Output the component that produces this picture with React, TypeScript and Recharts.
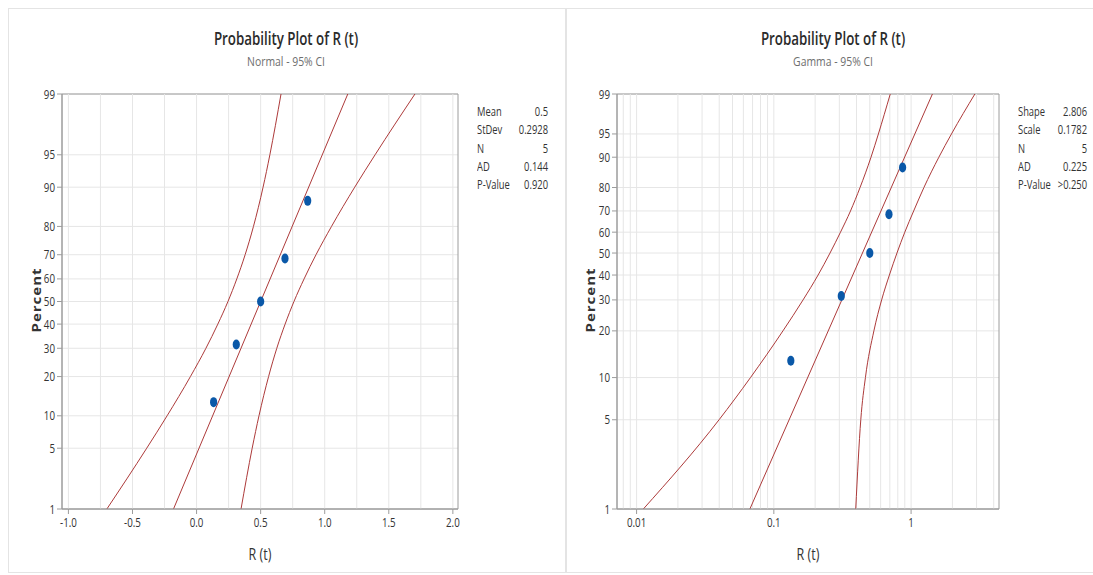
import React from 'react';
import {
  ComposedChart,
  Line,
  Scatter,
  XAxis,
  YAxis,
  CartesianGrid,
  ReferenceLine,
  ReferenceArea,
} from 'recharts';

// percent levels on the probability axis
const pctLevels = [1, 5, 10, 20, 30, 40, 50, 60, 70, 80, 90, 95, 99];

// observed R (t) values and their plotting positions (percent)
const obsR = [0.133, 0.31, 0.5, 0.69, 0.867];
const obsPct = [12.96, 31.48, 50, 68.52, 87.04];

// normal fit and 95% CI, R (t) read at each percent level in pctLevels
const normFitPct = [1, 99];
const normFitR = [-0.18, 1.18];
const normLoR = [-0.7, -0.389, -0.23, -0.048, 0.073, 0.166, 0.245, 0.314, 0.379, 0.444, 0.519, 0.572, 0.659];
const normHiR = [0.347, 0.434, 0.487, 0.562, 0.626, 0.691, 0.76, 0.839, 0.932, 1.053, 1.234, 1.393, 1.704];

// gamma fit and 95% CI
const gammaFitPct = [1, 99];
const gammaFitR = [0.0669, 1.43];
const gammaLoR = [0.0112, 0.0399, 0.0676, 0.1165, 0.1633, 0.2101, 0.2566, 0.306, 0.3619, 0.4247, 0.5104, 0.5778, 0.705];
const gammaHiR = [0.395, 0.43, 0.4648, 0.5358, 0.6102, 0.695, 0.789, 0.9, 1.0445, 1.24, 1.593, 1.969, 2.915];

const normXTicks = [-1, -0.5, 0, 0.5, 1, 1.5, 2];
const normXGrid = [-1, -0.75, -0.5, -0.25, 0, 0.25, 0.5, 0.75, 1, 1.25, 1.5, 1.75, 2];
const gammaXTicks = [0.01, 0.1, 1];
const gammaXGrid = [
  0.008, 0.009, 0.01, 0.02, 0.03, 0.04, 0.05, 0.06, 0.07, 0.08, 0.09,
  0.1, 0.2, 0.3, 0.4, 0.5, 0.6, 0.7, 0.8, 0.9, 1, 2, 3, 4,
];

const normStats = [['Mean', '0.5'], ['StDev', '0.2928'], ['N', '5'], ['AD', '0.144'], ['P-Value', '0.920']];
const gammaStats = [['Shape', '2.806'], ['Scale', '0.1782'], ['N', '5'], ['AD', '0.225'], ['P-Value', '>0.250']];
const GAMMA_SHAPE = 2.806;

const RED = '#ad3a3a';
const BLUE = '#0a58a8';
const AXIS = '#9c9c9c';
const GRID = '#e6e6e6';
const FONT = '"Open Sans", "Noto Sans", sans-serif';
const SQUEEZE = 0.78;

// ---- probability scale helpers ----
function erf(x: number) {
  const s = x < 0 ? -1 : 1;
  const a = Math.abs(x);
  const t = 1 / (1 + 0.3275911 * a);
  const y = 1 - (((((1.061405429 * t - 1.453152027) * t) + 1.421413741) * t - 0.284496736) * t + 0.254829592) * t * Math.exp(-a * a);
  return s * y;
}
const phi = (z: number) => 0.5 * (1 + erf(z / Math.SQRT2));
function normInv(p: number) {
  let lo = -10, hi = 10;
  for (let i = 0; i < 80; i++) {
    const m = (lo + hi) / 2;
    if (phi(m) < p) lo = m; else hi = m;
  }
  return (lo + hi) / 2;
}
function lnGamma(z: number): number {
  const g = 7;
  const c = [0.99999999999980993, 676.5203681218851, -1259.1392167224028, 771.32342877765313,
    -176.61502916214059, 12.507343278686905, -0.13857109526572012, 9.9843695780195716e-6, 1.5056327351493116e-7];
  if (z < 0.5) return Math.log(Math.PI / Math.sin(Math.PI * z)) - lnGamma(1 - z);
  z -= 1;
  let x = c[0];
  for (let i = 1; i < g + 2; i++) x += c[i] / (z + i);
  const t = z + g + 0.5;
  return 0.5 * Math.log(2 * Math.PI) + (z + 0.5) * Math.log(t) - t + Math.log(x);
}
function gammaP(a: number, x: number) {
  if (x <= 0) return 0;
  const gln = lnGamma(a);
  if (x < a + 1) {
    let ap = a, sum = 1 / a, del = sum;
    for (let n = 0; n < 200; n++) {
      ap += 1; del *= x / ap; sum += del;
      if (Math.abs(del) < Math.abs(sum) * 1e-12) break;
    }
    return sum * Math.exp(-x + a * Math.log(x) - gln);
  }
  let b = x + 1 - a, c = 1e300, d = 1 / b, h = d;
  for (let i = 1; i < 200; i++) {
    const an = -i * (i - a);
    b += 2;
    d = an * d + b; if (Math.abs(d) < 1e-300) d = 1e-300;
    c = b + an / c; if (Math.abs(c) < 1e-300) c = 1e-300;
    d = 1 / d;
    const del = d * c;
    h *= del;
    if (Math.abs(del - 1) < 1e-12) break;
  }
  return 1 - Math.exp(-x + a * Math.log(x) - gln) * h;
}
function gammaInv(p: number, a: number) {
  let lo = 0, hi = 200;
  for (let i = 0; i < 100; i++) {
    const m = (lo + hi) / 2;
    if (gammaP(a, m) < p) lo = m; else hi = m;
  }
  return (lo + hi) / 2;
}
const normY = (pct: number) => normInv(pct / 100);
const gammaY = (pct: number) => Math.log(gammaInv(pct / 100, GAMMA_SHAPE));

const toRows = (xs: number[], ps: number[], f: (p: number) => number) =>
  xs.map((x, i) => ({ x, y: f(ps[i]) }));

const Dot = (props: any) => {
  const { cx, cy } = props;
  if (cx == null || cy == null) return null;
  return <ellipse cx={cx} cy={cy} rx={3.6} ry={5} fill={BLUE} />;
};

// narrow tick labels, like the source's condensed rendering
const XTick = (props: any) => {
  const { x, y, payload, fmt } = props;
  return (
    <g transform={`translate(${x},${y})`}>
      <text x={0} y={0} dy="0.75em" textAnchor="middle" fontSize={12.5} fill="#333" fontFamily={FONT} transform={`scale(${SQUEEZE},1)`}>
        {fmt(payload.value)}
      </text>
    </g>
  );
};

const YTick = (props: any) => {
  const { x, y, index } = props;
  return (
    <g transform={`translate(${x},${y})`}>
      <text x={0} y={0} dy="0.36em" textAnchor="end" fontSize={12.5} fill="#333" fontFamily={FONT} transform={`scale(${SQUEEZE},1)`}>
        {pctLevels[index]}
      </text>
    </g>
  );
};

interface PanelProps {
  width: number;
  margin: { top: number; right: number; bottom: number; left: number };
  xDomain: [number, number];
  log?: boolean;
  xTicks: number[];
  xGrid: number[];
  xFmt: (v: number) => string;
  yf: (p: number) => number;
  fitR: number[];
  fitPct: number[];
  loR: number[];
  hiR: number[];
}

function ProbPanel(p: PanelProps) {
  const yTicks = pctLevels.map(p.yf);
  const yDomain: [number, number] = [p.yf(1), p.yf(99)];
  const fit = toRows(p.fitR, p.fitPct, p.yf);
  const lo = toRows(p.loR, pctLevels, p.yf);
  const hi = toRows(p.hiR, pctLevels, p.yf);
  const pts = toRows(obsR, obsPct, p.yf);
  return (
    <ComposedChart width={p.width} height={575} margin={p.margin}>
      <CartesianGrid vertical={false} stroke={GRID} />
      {p.xGrid.map((v) => (
        <ReferenceLine key={v} x={v} stroke={GRID} strokeWidth={1} />
      ))}
      <XAxis
        dataKey="x"
        type="number"
        scale={p.log ? 'log' : 'linear'}
        domain={p.xDomain}
        allowDataOverflow
        ticks={p.xTicks}
        height={30}
        tickSize={5}
        tickMargin={4}
        stroke={AXIS}
        tick={<XTick fmt={p.xFmt} />}
        interval={0}
      />
      <YAxis
        dataKey="y"
        type="number"
        domain={yDomain}
        allowDataOverflow
        ticks={yTicks}
        width={40}
        tickSize={5}
        tickMargin={2}
        stroke={AXIS}
        tick={<YTick />}
        interval={0}
      />
      <ReferenceArea x1={p.xDomain[0]} x2={p.xDomain[1]} y1={yDomain[0]} y2={yDomain[1]} fill="none" stroke={AXIS} strokeWidth={1} />
      <Line data={lo} dataKey="y" type="monotone" dot={false} stroke={RED} strokeWidth={1} isAnimationActive={false} />
      <Line data={hi} dataKey="y" type="monotone" dot={false} stroke={RED} strokeWidth={1} isAnimationActive={false} />
      <Line data={fit} dataKey="y" type="linear" dot={false} stroke={RED} strokeWidth={1} isAnimationActive={false} />
      <Scatter data={pts} dataKey="y" shape={<Dot />} isAnimationActive={false} />
    </ComposedChart>
  );
}

const abs = (s: React.CSSProperties): React.CSSProperties => ({ position: 'absolute', whiteSpace: 'nowrap', ...s });

function Stats({ rows, left, right }: { rows: string[][]; left: number; right: number }) {
  const base = { fontSize: 12, lineHeight: '14px', color: '#333' };
  return (
    <>
      {rows.map(([k, v], i) => (
        <React.Fragment key={k}>
          <div style={abs({ ...base, left, top: 105 + i * 18.3, transform: `scaleX(${SQUEEZE})`, transformOrigin: 'left center' })}>{k}</div>
          <div style={abs({ ...base, left: right - 80, width: 80, textAlign: 'right', top: 105 + i * 18.3, transform: `scaleX(${SQUEEZE})`, transformOrigin: 'right center' })}>{v}</div>
        </React.Fragment>
      ))}
    </>
  );
}

function Titles({ cx, sub }: { cx: number; sub: string }) {
  return (
    <>
      <div style={abs({ left: cx - 150, width: 300, textAlign: 'center', top: 27, fontSize: 18, lineHeight: '22px', fontWeight: 600, color: '#2b2b2b', transform: 'scaleX(0.74)' })}>
        Probability Plot of R (t)
      </div>
      <div style={abs({ left: cx - 150, width: 300, textAlign: 'center', top: 53, fontSize: 13, lineHeight: '16px', color: '#6e6e6e', transform: 'scaleX(0.8)' })}>
        {sub}
      </div>
    </>
  );
}

function AxisTitles({ yx, xcx }: { yx: number; xcx: number }) {
  return (
    <>
      <div style={abs({ left: yx - 50, width: 100, top: 291, textAlign: 'center', fontSize: 15, lineHeight: '18px', fontWeight: 700, color: '#333', letterSpacing: 1, transform: 'rotate(-90deg) scaleY(0.8)' })}>
        Percent
      </div>
      <div style={abs({ left: xcx - 40, width: 80, top: 545, textAlign: 'center', fontSize: 16, lineHeight: '18px', color: '#333', transform: `scaleX(${SQUEEZE})` })}>
        R (t)
      </div>
    </>
  );
}

export default function App() {
  return (
    <div style={{ position: 'absolute', left: 0, top: 0, width: 1093, height: 575, background: '#fff', fontFamily: FONT, overflow: 'hidden' }}>
      <div style={abs({ left: 8, top: 8, width: 556, height: 563, border: '1px solid #e4e4e4' })} />
      <div style={abs({ left: 566, top: 8, width: 540, height: 563, border: '1px solid #e4e4e4' })} />
      <div style={abs({ left: 0, top: 0 })}>
        <ProbPanel
          width={560}
          margin={{ top: 94, right: 102, bottom: 36, left: 22 }}
          xDomain={[-1.05, 2.04]}
          xTicks={normXTicks}
          xGrid={normXGrid}
          xFmt={(v) => v.toFixed(1)}
          yf={normY}
          fitR={normFitR}
          fitPct={normFitPct}
          loR={normLoR}
          hiR={normHiR}
        />
      </div>
      <div style={abs({ left: 560, top: 0 })}>
        <ProbPanel
          width={533}
          margin={{ top: 94, right: 94, bottom: 36, left: 17 }}
          xDomain={[0.0072, 4.37]}
          log
          xTicks={gammaXTicks}
          xGrid={gammaXGrid}
          xFmt={(v) => String(v)}
          yf={gammaY}
          fitR={gammaFitR}
          fitPct={gammaFitPct}
          loR={gammaLoR}
          hiR={gammaHiR}
        />
      </div>
      <Titles cx={286} sub="Normal - 95% CI" />
      <Titles cx={833} sub="Gamma - 95% CI" />
      <AxisTitles yx={36} xcx={260} />
      <AxisTitles yx={590} xcx={808} />
      <Stats rows={normStats} left={477} right={548} />
      <Stats rows={gammaStats} left={1018} right={1087} />
    </div>
  );
}
